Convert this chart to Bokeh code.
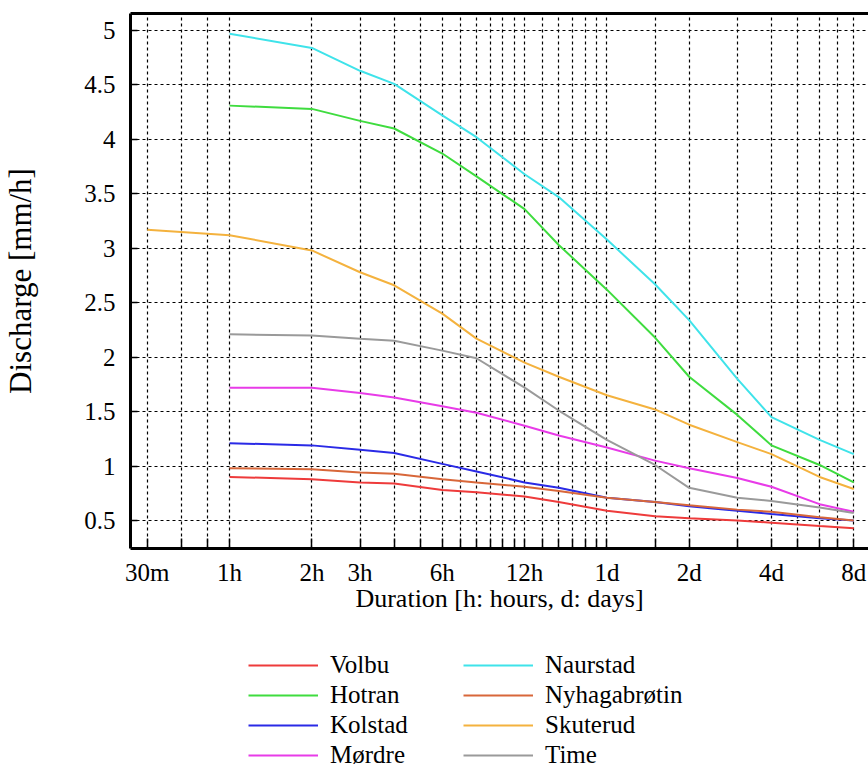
from bokeh.plotting import figure
from bokeh.layouts import column
from bokeh.models import (FixedTicker, LinearAxis, Range1d, Legend, LegendItem,
                          CustomJSTickFormatter)
from bokeh.embed import file_html
from bokeh.resources import INLINE

nan = float("nan")

# Durations in hours
durations_h = [0.5, 1, 2, 3, 4, 6, 8, 12, 16, 24, 36, 48, 72, 96, 144, 192]

volbu        = [nan, 0.90, 0.88, 0.85, 0.84, 0.78, 0.76, 0.72, 0.67, 0.59, 0.54, 0.52, 0.50, 0.48, 0.45, 0.43]
hotran       = [nan, 4.31, 4.28, 4.17, 4.10, 3.87, 3.66, 3.36, 3.03, 2.62, 2.18, 1.82, 1.47, 1.19, 1.01, 0.85]
kolstad      = [nan, 1.21, 1.19, 1.15, 1.12, 1.02, 0.95, 0.85, 0.80, 0.71, 0.67, 0.63, 0.59, 0.56, 0.52, 0.50]
mordre       = [nan, 1.72, 1.72, 1.67, 1.63, 1.55, 1.49, 1.37, 1.28, 1.17, 1.05, 0.98, 0.89, 0.81, 0.65, 0.58]
naurstad     = [nan, 4.97, 4.84, 4.63, 4.51, 4.22, 4.02, 3.68, 3.47, 3.08, 2.67, 2.34, 1.80, 1.45, 1.24, 1.11]
nyhagabrotin = [nan, 0.98, 0.97, 0.94, 0.93, 0.88, 0.85, 0.81, 0.77, 0.71, 0.67, 0.64, 0.60, 0.58, 0.53, 0.50]
skuterud     = [3.17, 3.12, 2.98, 2.78, 2.66, 2.40, 2.17, 1.95, 1.82, 1.65, 1.52, 1.38, 1.22, 1.11, 0.90, 0.79]
time_st      = [nan, 2.21, 2.20, 2.17, 2.15, 2.06, 1.99, 1.72, 1.51, 1.24, 1.01, 0.80, 0.71, 0.68, 0.62, 0.57]

series_names = ["Volbu", "Hotran", "Kolstad", "Mørdre",
                "Naurstad", "Nyhagabrøtin", "Skuterud", "Time"]
series_values = [volbu, hotran, kolstad, mordre,
                 naurstad, nyhagabrotin, skuterud, time_st]
series_colors = ["#ee3b3b", "#3fdc3f", "#2a2ae6", "#e83be8",
                 "#3fe3ea", "#d8673a", "#f4b23e", "#9a9a9a"]

x_tick_values = [0.5, 1, 2, 3, 6, 12, 24, 48, 96, 192]
x_tick_labels = ["30m", "1h", "2h", "3h", "6h", "12h", "1d", "2d", "4d", "8d"]
x_minor_values = [2/3, 5/6, 4, 5, 7, 8, 9, 10, 11, 14, 16, 18, 20, 22,
                  36, 72, 120, 144, 168]
y_tick_values = [0.5, 1, 1.5, 2, 2.5, 3, 3.5, 4, 4.5, 5]

FONT = "Liberation Serif"

p = figure(width=868, height=635, x_axis_type="log",
           x_range=Range1d(0.434, 217.4), y_range=Range1d(0.243, 5.156),
           output_backend="svg", toolbar_location=None,
           min_border_left=130, min_border_right=0, min_border_top=13,
           min_border_bottom=87, outline_line_color=None,
           background_fill_color="white", border_fill_color="white")

# x axis (bottom)
xa = p.below[0]
xa.ticker = FixedTicker(ticks=x_tick_values, minor_ticks=x_minor_values)
xa.major_label_overrides = {float(v): l for v, l in zip(x_tick_values, x_tick_labels)}
xa.axis_line_width = 3
xa.axis_line_color = "black"
xa.major_tick_in = 10
xa.major_tick_out = 0
xa.minor_tick_in = 10
xa.minor_tick_out = 0
xa.major_tick_line_width = 1.5
xa.minor_tick_line_width = 1.5
xa.major_tick_line_color = "black"
xa.minor_tick_line_color = "black"
xa.major_label_text_font = FONT
xa.major_label_text_font_size = "25px"
xa.major_label_text_color = "black"
xa.major_label_standoff = 10
xa.axis_label = "Duration [h: hours, d: days]"
xa.axis_label_text_font = FONT
xa.axis_label_text_font_size = "26px"
xa.axis_label_text_font_style = "normal"
xa.axis_label_text_color = "black"
xa.axis_label_standoff = -5

# top frame line
top_axis = LinearAxis(ticker=FixedTicker(ticks=[]), axis_line_width=3,
                      axis_line_color="black",
                      major_tick_out=0, minor_tick_out=0, major_tick_in=0,
                      minor_tick_in=0, major_label_standoff=0,
                      major_label_text_font_size="0px")
p.add_layout(top_axis, "above")

# y axis
ya = p.left[0]
ya.ticker = FixedTicker(ticks=y_tick_values)
ya.formatter = CustomJSTickFormatter(code="return tick.toString();")
ya.axis_line_width = 3
ya.axis_line_color = "black"
ya.major_tick_in = 7
ya.major_tick_out = 0
ya.minor_tick_line_color = None
ya.major_tick_line_width = 1.5
ya.major_tick_line_color = "black"
ya.major_label_text_font = FONT
ya.major_label_text_font_size = "25px"
ya.major_label_text_color = "black"
ya.major_label_standoff = 15
ya.axis_label = "Discharge [mm/h]"
ya.axis_label_text_font = FONT
ya.axis_label_text_font_size = "31px"
ya.axis_label_text_font_style = "normal"
ya.axis_label_text_color = "black"
ya.axis_label_standoff = 43

# grids
for g in (p.xgrid[0], p.ygrid[0]):
    g.grid_line_color = "black"
    g.grid_line_dash = "3 3"
    g.grid_line_width = 1.2
p.xgrid.minor_grid_line_color = "black"
p.xgrid.minor_grid_line_dash = "3 3"
p.xgrid.minor_grid_line_width = 1.2

for name, vals, col in zip(series_names, series_values, series_colors):
    p.line(durations_h, vals, line_color=col, line_width=2)

# legend panel (separate figure under the chart; its frame aligns with the chart's)
lp = figure(width=868, height=145, output_backend="svg", toolbar_location=None,
            x_axis_location=None, y_axis_location=None,
            x_range=Range1d(0, 1), y_range=Range1d(0, 1),
            min_border_left=0, min_border_right=0, min_border_top=0,
            min_border_bottom=0, outline_line_color=None,
            background_fill_color="white", border_fill_color="white")
lp.xgrid.visible = False
lp.ygrid.visible = False
legend_renderers = [lp.line([nan], [nan], line_color=c, line_width=2) for c in series_colors]

def make_legend(idx, x_off):
    items = [LegendItem(label=series_names[i], renderers=[legend_renderers[i]]) for i in idx]
    lg = Legend(items=items, location=(x_off, 10), orientation="vertical",
                glyph_width=70, glyph_height=30, label_height=30,
                label_standoff=12, spacing=0, padding=0, margin=0,
                border_line_color=None, background_fill_alpha=0,
                label_text_font=FONT, label_text_font_size="25px",
                label_text_color="black")
    lp.add_layout(lg, "center")

make_legend([0, 1, 2, 3], 118)
make_legend([4, 5, 6, 7], 333)

open("out.html", "w").write(file_html(column(p, lp, spacing=0), INLINE))
